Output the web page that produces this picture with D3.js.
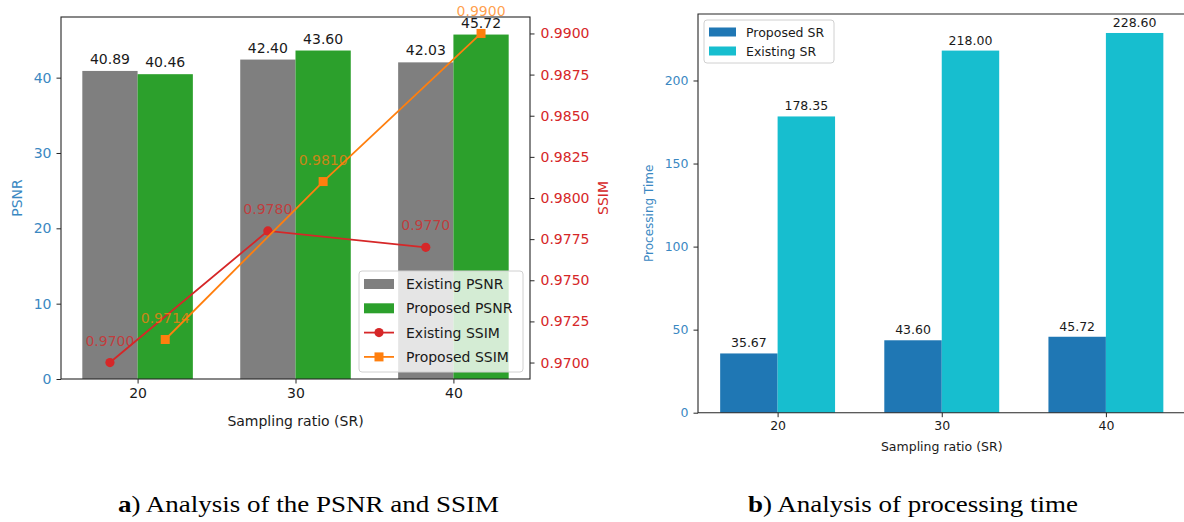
<!DOCTYPE html>
<html>
<head>
<meta charset="utf-8">
<script src="https://cdn.jsdelivr.net/npm/d3@7"></script>
<style>
  html, body { margin: 0; padding: 0; background: #fff; }
  svg { display: block; font-family: "DejaVu Sans", sans-serif; }
</style>
</head>
<body>
<svg id="fig" width="1184" height="522"></svg>
<script>
// Sampling ratios shared by both panels
const categories = ["20", "30", "40"];

// Panel a: PSNR bars and SSIM lines
const existingPSNR = [40.89, 42.40, 42.03];
const proposedPSNR = [40.46, 43.60, 45.72];
const existingSSIM = [0.9700, 0.9780, 0.9770];
const proposedSSIM = [0.9714, 0.9810, 0.9900];
const psnrTicks = [0, 10, 20, 30, 40];
const ssimTicks = [0.9700, 0.9725, 0.9750, 0.9775, 0.9800, 0.9825, 0.9850, 0.9875, 0.9900];

// Panel b: processing time
const proposedTime = [35.67, 43.60, 45.72];
const existingTime = [178.35, 218.00, 228.60];
const timeTicks = [0, 50, 100, 150, 200];

const C = {
  gray: "#7f7f7f", green: "#2ca02c", red: "#d62728", orange: "#ff7f0e",
  blue: "#1f77b4", cyan: "#17becf", axisBlue: "#3a88c2", spine: "#262626", text: "#1a1a1a"
};

const svg = d3.select("#fig");
svg.append("rect").attr("width", 1184).attr("height", 522).attr("fill", "#fff");

const W = 0.35;

function styleAxis(g, color, fs) {
  g.select(".domain").remove();
  g.selectAll(".tick line").attr("stroke", C.spine).attr("stroke-width", 1);
  g.selectAll(".tick text").attr("fill", color).attr("font-size", fs)
    .attr("font-family", "DejaVu Sans, sans-serif");
}

// ---------------- Panel a ----------------
{
  const L = 61, R = 530, T = 17, B = 379;
  const x = d3.scaleLinear().domain([-0.485, 2.485]).range([L, R]);
  const y = d3.scaleLinear().domain([0, 48.05]).range([B, T]);
  const y2 = d3.scaleLinear().domain([0.969, 0.991]).range([B, T]);
  const g = svg.append("g");

  const idx = categories.map((c, i) => i);

  // bars
  g.selectAll(".ex").data(existingPSNR).join("rect")
    .attr("x", (d, i) => x(i - W)).attr("width", x(W) - x(0))
    .attr("y", d => y(d)).attr("height", d => y(0) - y(d)).attr("fill", C.gray);
  g.selectAll(".pr").data(proposedPSNR).join("rect")
    .attr("x", (d, i) => x(i)).attr("width", x(W) - x(0))
    .attr("y", d => y(d)).attr("height", d => y(0) - y(d)).attr("fill", C.green);

  // bar value labels
  const lbl = (arr, off) => g.append("g").selectAll("text").data(arr).join("text")
    .attr("x", (d, i) => x(i + off)).attr("y", d => y(d) - 7)
    .attr("text-anchor", "middle").attr("font-size", 14).attr("fill", C.text)
    .text(d => d.toFixed(2));
  lbl(existingPSNR, -W / 2);
  lbl(proposedPSNR, W / 2);

  // SSIM lines
  const lineEx = d3.line().x((d, i) => x(i - W / 2)).y(d => y2(d));
  const linePr = d3.line().x((d, i) => x(i + W / 2)).y(d => y2(d));
  g.append("path").attr("d", lineEx(existingSSIM)).attr("fill", "none")
    .attr("stroke", C.red).attr("stroke-width", 1.8);
  g.selectAll(".mex").data(existingSSIM).join("circle")
    .attr("cx", (d, i) => x(i - W / 2)).attr("cy", d => y2(d)).attr("r", 4.6).attr("fill", C.red);
  g.append("path").attr("d", linePr(proposedSSIM)).attr("fill", "none")
    .attr("stroke", C.orange).attr("stroke-width", 1.8);
  g.selectAll(".mpr").data(proposedSSIM).join("rect")
    .attr("x", (d, i) => x(i + W / 2) - 4.5).attr("y", d => y2(d) - 4.5)
    .attr("width", 9).attr("height", 9).attr("fill", C.orange);

  // SSIM value labels
  g.append("g").selectAll("text").data(existingSSIM).join("text")
    .attr("x", (d, i) => x(i - W / 2)).attr("y", d => y2(d) - 17)
    .attr("text-anchor", "middle").attr("font-size", 14).attr("fill", C.red).attr("fill-opacity", 0.75)
    .text(d => d.toFixed(4));
  g.append("g").selectAll("text").data(proposedSSIM).join("text")
    .attr("x", (d, i) => x(i + W / 2)).attr("y", d => y2(d) - 17)
    .attr("text-anchor", "middle").attr("font-size", 14).attr("fill", C.orange).attr("fill-opacity", 0.75)
    .text(d => d.toFixed(4));

  // frame
  g.append("rect").attr("x", L).attr("y", T).attr("width", R - L).attr("height", B - T)
    .attr("fill", "none").attr("stroke", C.spine).attr("stroke-width", 1.1);

  // axes
  const ax = g.append("g").attr("transform", `translate(0,${B})`)
    .call(d3.axisBottom(x).tickValues(idx).tickFormat(i => categories[i]).tickSize(4.5).tickPadding(5));
  styleAxis(ax, C.text, 14);
  const ayl = g.append("g").attr("transform", `translate(${L},0)`)
    .call(d3.axisLeft(y).tickValues(psnrTicks).tickSize(4.5).tickPadding(5));
  styleAxis(ayl, C.axisBlue, 14);
  const ayr = g.append("g").attr("transform", `translate(${R},0)`)
    .call(d3.axisRight(y2).tickValues(ssimTicks).tickFormat(d3.format(".4f")).tickSize(4.5).tickPadding(6));
  styleAxis(ayr, C.red, 14);

  g.append("text").attr("x", (L + R) / 2).attr("y", 426).attr("text-anchor", "middle")
    .attr("font-size", 14).attr("fill", C.text).text("Sampling ratio (SR)");
  g.append("text").attr("transform", `translate(22,${(T + B) / 2}) rotate(-90)`)
    .attr("text-anchor", "middle").attr("font-size", 14).attr("fill", C.axisBlue).text("PSNR");
  g.append("text").attr("transform", `translate(608,${(T + B) / 2}) rotate(-90)`)
    .attr("text-anchor", "middle").attr("font-size", 14).attr("fill", C.red).text("SSIM");

  // legend
  const lg = g.append("g").attr("transform", "translate(359,271)");
  lg.append("rect").attr("width", 164).attr("height", 101).attr("rx", 3)
    .attr("fill", "#fff").attr("fill-opacity", 0.8).attr("stroke", "#d0d0d0");
  const items = [
    { label: "Existing PSNR", kind: "bar", color: C.gray },
    { label: "Proposed PSNR", kind: "bar", color: C.green },
    { label: "Existing SSIM", kind: "circle", color: C.red },
    { label: "Proposed SSIM", kind: "square", color: C.orange }
  ];
  items.forEach((it, k) => {
    const cy = 13 + k * 24.3;
    if (it.kind === "bar") {
      lg.append("rect").attr("x", 5).attr("y", cy - 5).attr("width", 30).attr("height", 10).attr("fill", it.color);
    } else {
      lg.append("line").attr("x1", 5).attr("x2", 35).attr("y1", cy).attr("y2", cy)
        .attr("stroke", it.color).attr("stroke-width", 1.8);
      if (it.kind === "circle") lg.append("circle").attr("cx", 20).attr("cy", cy).attr("r", 4.6).attr("fill", it.color);
      else lg.append("rect").attr("x", 15.5).attr("y", cy - 4.5).attr("width", 9).attr("height", 9).attr("fill", it.color);
    }
    lg.append("text").attr("x", 47).attr("y", cy + 5).attr("font-size", 14).attr("fill", C.text).text(it.label);
  });
}

// ---------------- Panel b ----------------
{
  const L = 698, R = 1185.5, T = 14, B = 412.7;
  const x = d3.scaleLinear().domain([-0.485, 2.485]).range([L, R]);
  const y = d3.scaleLinear().domain([0, 240.03]).range([B, T]);
  const g = svg.append("g");
  const idx = categories.map((c, i) => i);

  g.selectAll(".pt").data(proposedTime).join("rect")
    .attr("x", (d, i) => x(i - W)).attr("width", x(W) - x(0))
    .attr("y", d => y(d)).attr("height", d => y(0) - y(d)).attr("fill", C.blue);
  g.selectAll(".et").data(existingTime).join("rect")
    .attr("x", (d, i) => x(i)).attr("width", x(W) - x(0))
    .attr("y", d => y(d)).attr("height", d => y(0) - y(d)).attr("fill", C.cyan);

  const lbl = (arr, off) => g.append("g").selectAll("text").data(arr).join("text")
    .attr("x", (d, i) => x(i + off)).attr("y", d => y(d) - 6)
    .attr("text-anchor", "middle").attr("font-size", 12.5).attr("fill", C.text)
    .text(d => d.toFixed(2));
  lbl(proposedTime, -W / 2);
  lbl(existingTime, W / 2);

  g.append("path").attr("d", `M${R},${B}H${L}V${T}H${R}V${B}`)
    .attr("fill", "none").attr("stroke", C.spine).attr("stroke-width", 1.1);

  const ax = g.append("g").attr("transform", `translate(0,${B})`)
    .call(d3.axisBottom(x).tickValues(idx).tickFormat(i => categories[i]).tickSize(4.5).tickPadding(4));
  styleAxis(ax, C.text, 12.5);
  const ay = g.append("g").attr("transform", `translate(${L},0)`)
    .call(d3.axisLeft(y).tickValues(timeTicks).tickSize(4.5).tickPadding(5));
  styleAxis(ay, C.axisBlue, 12.5);

  g.append("text").attr("x", (L + R) / 2).attr("y", 451).attr("text-anchor", "middle")
    .attr("font-size", 12.5).attr("fill", C.text).text("Sampling ratio (SR)");
  g.append("text").attr("transform", `translate(653,${(T + B) / 2}) rotate(-90)`)
    .attr("text-anchor", "middle").attr("font-size", 12).attr("fill", C.axisBlue).text("Processing Time");

  const lg = g.append("g").attr("transform", "translate(704,20)");
  lg.append("rect").attr("width", 130).attr("height", 43).attr("rx", 3)
    .attr("fill", "#fff").attr("fill-opacity", 0.8).attr("stroke", "#d0d0d0");
  [{ label: "Proposed SR", color: C.blue }, { label: "Existing SR", color: C.cyan }].forEach((it, k) => {
    const cy = 12 + k * 19;
    lg.append("rect").attr("x", 5).attr("y", cy - 4.5).attr("width", 27).attr("height", 9).attr("fill", it.color);
    lg.append("text").attr("x", 42).attr("y", cy + 4.5).attr("font-size", 12.5).attr("fill", C.text).text(it.label);
  });
}

// ---------------- Captions ----------------
const cap = (x0, tag, rest) => {
  const t = svg.append("text").attr("transform", `translate(${x0},512) scale(1.2,1)`)
    .attr("font-family", "Liberation Serif, Times New Roman, serif").attr("font-size", 22.5).attr("fill", "#000");
  t.append("tspan").attr("font-weight", "bold").text(tag);
  t.append("tspan").text(rest);
};
cap(118, "a", ") Analysis of the PSNR and SSIM");
cap(748, "b", ") Analysis of processing time");
</script>
</body>
</html>
